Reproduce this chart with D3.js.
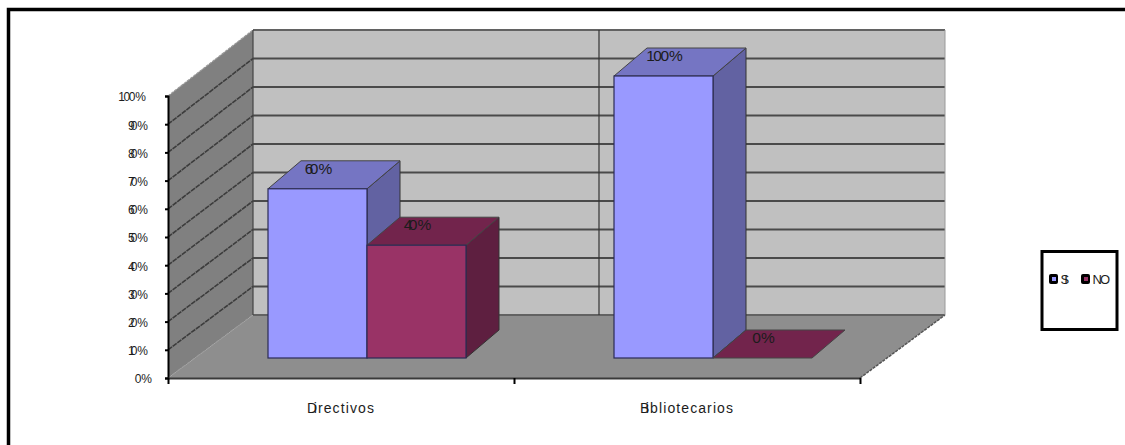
<!DOCTYPE html>
<html>
<head>
<meta charset="utf-8">
<script src="https://cdn.jsdelivr.net/npm/d3@7/dist/d3.min.js"></script>
<style>
  html, body { margin: 0; padding: 0; background: #fff; }
  svg { display: block; }
  text { font-family: "Liberation Sans", Arial, sans-serif; fill: #1c1c1c; }
</style>
</head>
<body>
<svg id="chart" width="1125" height="445"></svg>
<script>
// Percentage of respondents per group
const categories = ["Directivos", "Bibliotecarios"];
const seriesNames = ["SI", "NO"];
const siValues = [60, 100];
const noValues = [40, 0];
const valueTicks = [0, 10, 20, 30, 40, 50, 60, 70, 80, 90, 100];

const seriesValues = { SI: siValues, NO: noValues };
const faces = {
  SI: { front: "#9999ff", top: "#7575c3", side: "#6262a2" },
  NO: { front: "#993366", top: "#72244c", side: "#5e1f40" }
};

const svg = d3.select("#chart");
const fontStack = '"Liberation Sans", Arial, sans-serif';

// Box geometry: front floor edge, and the shift from front to back of the box
const box = { left: 168, right: 860, front: 378, frontTop: 96, back: 315, backTop: 30, dx: 85 };
const barDepth = { dx: 33, dy: 28 };
const barWidth = 99;

const yFront = d3.scaleLinear().domain([0, 100]).range([box.front, box.frontTop]);
const yBack = d3.scaleLinear().domain([0, 100]).range([box.back, box.backTop]);
const yBar = d3.scaleLinear().domain([0, 100]).range([358, 76]);

const xAxisBand = d3.scaleBand().domain(categories).range([box.left, box.right]);
const xBars = d3.scaleBand().domain(categories).range([box.left + 26, box.right + 26]);
const xSeries = d3.scaleBand().domain(seriesNames)
  .range([xBars.bandwidth() / 2 - barWidth, xBars.bandwidth() / 2 + barWidth]);
const xEdges = d3.scaleLinear().domain([0, categories.length]).range([box.left, box.right]);

const polygon = pts => "M" + pts.map(p => p.join(",")).join("L") + "Z";

// Pulls neighbouring digits together so the labels set tight
const tightDx = (label, pull) =>
  Array.from(label, (c, i) => (i > 0 && /\d/.test(c) && /\d/.test(label[i - 1]) ? -pull : 0)).join(" ");

// Page frame, open on the right and at the bottom
svg.append("path")
  .attr("d", "M8.5,445V9.5H1125")
  .attr("fill", "none").attr("stroke", "#000").attr("stroke-width", 3.5);

// Back wall, left wall and floor
svg.append("rect")
  .attr("x", box.left + box.dx).attr("y", box.backTop)
  .attr("width", box.right - box.left).attr("height", box.back - box.backTop)
  .attr("fill", "#c0c0c0");
svg.append("path")
  .attr("d", polygon([[box.left, box.front], [box.left, box.frontTop],
    [box.left + box.dx, box.backTop], [box.left + box.dx, box.back]]))
  .attr("fill", "#808080");
svg.append("path")
  .attr("d", polygon([[box.left, box.front], [box.right, box.front],
    [box.right + box.dx, box.back], [box.left + box.dx, box.back]]))
  .attr("fill", "#8e8e8e");

// Gridlines: a leg across the left wall and a leg along the back wall
const grid = svg.append("g").attr("fill", "none");
const isEdgeTick = v => v === 0 || v === 100;
grid.selectAll(".wall-leg").data(valueTicks).join("line")
  .attr("class", "wall-leg")
  .attr("x1", box.left).attr("y1", yFront)
  .attr("x2", box.left + box.dx).attr("y2", yBack)
  .attr("stroke", v => isEdgeTick(v) ? "#9a9a9a" : "#3c3c3c")
  .attr("stroke-width", v => isEdgeTick(v) ? 1.2 : 1.6)
  .attr("stroke-dasharray", v => v === 0 ? "3 3" : v === 100 ? "3 1" : "5 0.8");
grid.selectAll(".back-leg").data(valueTicks).join("line")
  .attr("class", "back-leg")
  .attr("x1", box.left + box.dx).attr("y1", yBack)
  .attr("x2", box.right + box.dx).attr("y2", yBack)
  .attr("stroke", v => isEdgeTick(v) ? "#626262" : "#4a4a4a")
  .attr("stroke-width", 1.8);

// Wall corners and the category divider
grid.append("line")
  .attr("x1", box.left + box.dx).attr("x2", box.left + box.dx)
  .attr("y1", box.backTop).attr("y2", box.back)
  .attr("stroke", "#444").attr("stroke-width", 1.2);
grid.append("line")
  .attr("x1", xEdges(1) + box.dx).attr("x2", xEdges(1) + box.dx)
  .attr("y1", box.backTop).attr("y2", box.back)
  .attr("stroke", "#333").attr("stroke-width", 1.2);
grid.append("line")
  .attr("x1", box.right + box.dx).attr("x2", box.right + box.dx)
  .attr("y1", box.backTop).attr("y2", box.back)
  .attr("stroke", "#9a9a9a").attr("stroke-width", 1);

// Floor's far-side edge
svg.append("line")
  .attr("x1", box.right).attr("y1", box.front)
  .attr("x2", box.right + box.dx).attr("y2", box.back)
  .attr("stroke", "#555").attr("stroke-width", 1.5).attr("stroke-dasharray", "3 1");

// Bars: side, top and front face for each series in each category
const barData = categories.flatMap((c, i) =>
  seriesNames.map(s => ({ category: c, series: s, value: seriesValues[s][i] })));

const bars = svg.append("g").selectAll("g").data(barData).join("g")
  .attr("transform", d => `translate(${xBars(d.category) + xSeries(d.series)},0)`);

const edge = "#2b2b55";
bars.filter(d => d.value > 0).append("path")
  .attr("d", d => polygon([[barWidth, yBar(d.value)], [barWidth + barDepth.dx, yBar(d.value) - barDepth.dy],
    [barWidth + barDepth.dx, yBar(0) - barDepth.dy], [barWidth, yBar(0)]]))
  .attr("fill", d => faces[d.series].side)
  .attr("stroke", "#333").attr("stroke-width", 1);
bars.append("path")
  .attr("d", d => polygon([[0, yBar(d.value)], [barDepth.dx, yBar(d.value) - barDepth.dy],
    [barWidth + barDepth.dx, yBar(d.value) - barDepth.dy], [barWidth, yBar(d.value)]]))
  .attr("fill", d => faces[d.series].top)
  .attr("stroke", "#444").attr("stroke-width", 1);
bars.filter(d => d.value > 0).append("rect")
  .attr("y", d => yBar(d.value))
  .attr("width", barWidth)
  .attr("height", d => yBar(0) - yBar(d.value))
  .attr("fill", d => faces[d.series].front)
  .attr("stroke", edge).attr("stroke-width", 1.2);

// Value labels above each bar
bars.append("text")
  .attr("x", barWidth / 2 + 1)
  .attr("y", d => yBar(d.value) - 15)
  .attr("text-anchor", "middle")
  .attr("font-size", 15.5)
  .attr("dx", d => tightDx(d.value + "%", d.value === 100 ? 1.5 : 3.5))
  .text(d => d.value + "%");

// Value axis on the front-left corner
const yAxis = d3.axisLeft(yFront).tickValues(valueTicks)
  .tickFormat(v => v + "%").tickSize(3).tickPadding(17);
const yG = svg.append("g").attr("transform", `translate(${box.left},0)`).call(yAxis);
yG.attr("font-family", null);
yG.select(".domain").attr("stroke", "#000").attr("stroke-width", 2);
yG.selectAll(".tick line").attr("stroke", "#000").attr("stroke-width", 2);
yG.selectAll(".tick text")
  .attr("font-size", 12)
  .attr("dy", "0.4em")
  .attr("x", v => v === 0 ? -16 : v === 100 ? -22 : -20)
  .attr("dx", v => tightDx(v + "%", v === 100 ? 1.5 : 4))
  .style("font-family", fontStack);

// Category axis: boundary ticks plus centred names
const edgeAxis = d3.axisBottom(xEdges).tickValues(d3.range(categories.length + 1))
  .tickFormat("").tickSize(6).tickSizeOuter(0);
const edgeG = svg.append("g").attr("transform", `translate(0,${box.front})`).call(edgeAxis);
edgeG.select(".domain").attr("stroke", "#3a3a3a").attr("stroke-width", 2);
edgeG.selectAll(".tick line").attr("stroke", "#000").attr("stroke-width", 2);

const nameAxis = d3.axisBottom(xAxisBand).tickSize(0).tickPadding(25);
const nameG = svg.append("g").attr("transform", `translate(0,${box.front})`).call(nameAxis);
nameG.select(".domain").remove();
nameG.attr("font-family", null);
nameG.selectAll(".tick text").attr("font-size", 14)
  .style("font-family", fontStack)
  .attr("letter-spacing", 1.1)
  .attr("dx", "0 -4.5");

// Legend
const legend = svg.append("g");
legend.append("rect")
  .attr("x", 1042).attr("y", 251.5).attr("width", 75).attr("height", 78)
  .attr("fill", "#fff").attr("stroke", "#000").attr("stroke-width", 3);
const legendX = d3.scalePoint().domain(seriesNames).range([1049, 1081]);
const entries = legend.selectAll("g").data(seriesNames).join("g")
  .attr("transform", s => `translate(${legendX(s)},274)`);
entries.append("rect")
  .attr("width", 9).attr("height", 10).attr("rx", 2).attr("fill", "#000");
entries.append("rect")
  .attr("x", 3).attr("y", 3).attr("width", 4).attr("height", 4)
  .attr("fill", s => faces[s].front);
entries.append("text")
  .attr("x", 11.5).attr("y", 10)
  .attr("font-size", 13)
  .attr("dx", s => s === "SI" ? "0 -5" : "0 -2")
  .text(s => s);
</script>
</body>
</html>
